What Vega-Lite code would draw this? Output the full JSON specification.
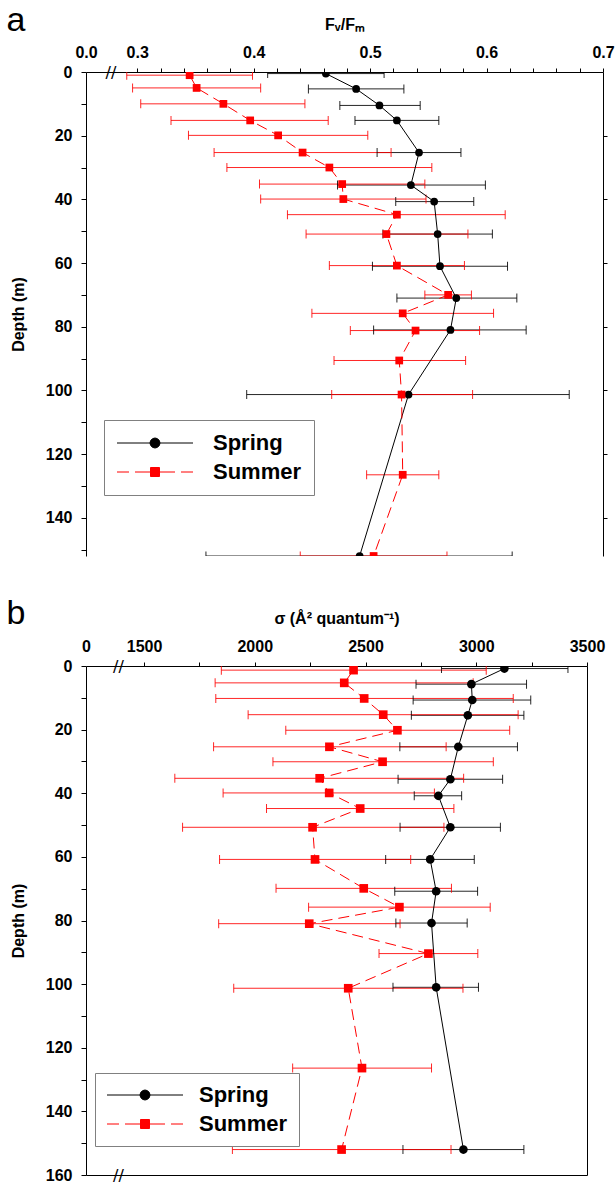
{
  "$schema": "https://vega.github.io/schema/vega-lite/v6.json",
  "padding": {"left": 6, "top": 3, "right": 0, "bottom": 0},
  "spacing": 38,
  "config": {
    "view": {"stroke": null},
    "font": "Liberation Sans",
    "axis": {"labelFont": "Liberation Sans", "titleFont": "Liberation Sans", "labelFontWeight": "bold", "titleFontWeight": "bold", "labelColor": "black", "titleColor": "black", "domainColor": "black", "tickColor": "black", "grid": false, "labelFontSize": 16, "titleFontSize": 16}
  },
  "datasets": {
    "fv": [
      {"season": "Spring", "depth": 0.5, "val": 0.462, "lo": 0.412, "hi": 0.512},
      {"season": "Spring", "depth": 5.3, "val": 0.488, "lo": 0.447, "hi": 0.529},
      {"season": "Spring", "depth": 10.5, "val": 0.508, "lo": 0.474, "hi": 0.543},
      {"season": "Spring", "depth": 15.2, "val": 0.523, "lo": 0.487, "hi": 0.559},
      {"season": "Spring", "depth": 25.3, "val": 0.542, "lo": 0.506, "hi": 0.578},
      {"season": "Spring", "depth": 35.5, "val": 0.535, "lo": 0.472, "hi": 0.599},
      {"season": "Spring", "depth": 40.7, "val": 0.555, "lo": 0.522, "hi": 0.589},
      {"season": "Spring", "depth": 50.9, "val": 0.558, "lo": 0.511, "hi": 0.605},
      {"season": "Spring", "depth": 61, "val": 0.56, "lo": 0.502, "hi": 0.618},
      {"season": "Spring", "depth": 71, "val": 0.574, "lo": 0.523, "hi": 0.626},
      {"season": "Spring", "depth": 81, "val": 0.569, "lo": 0.503, "hi": 0.634},
      {"season": "Spring", "depth": 101.3, "val": 0.533, "lo": 0.394, "hi": 0.671},
      {"season": "Spring", "depth": 152, "val": 0.491, "lo": 0.359, "hi": 0.622},
      {"season": "Summer", "depth": 1, "val": 0.345, "lo": 0.291, "hi": 0.399},
      {"season": "Summer", "depth": 5, "val": 0.351, "lo": 0.296, "hi": 0.406},
      {"season": "Summer", "depth": 10, "val": 0.374, "lo": 0.303, "hi": 0.444},
      {"season": "Summer", "depth": 15.2, "val": 0.397, "lo": 0.329, "hi": 0.464},
      {"season": "Summer", "depth": 19.9, "val": 0.421, "lo": 0.344, "hi": 0.498},
      {"season": "Summer", "depth": 25.3, "val": 0.442, "lo": 0.366, "hi": 0.518},
      {"season": "Summer", "depth": 30, "val": 0.465, "lo": 0.377, "hi": 0.553},
      {"season": "Summer", "depth": 35.2, "val": 0.476, "lo": 0.405, "hi": 0.547},
      {"season": "Summer", "depth": 39.9, "val": 0.477, "lo": 0.406, "hi": 0.548},
      {"season": "Summer", "depth": 44.8, "val": 0.523, "lo": 0.429, "hi": 0.616},
      {"season": "Summer", "depth": 50.9, "val": 0.514, "lo": 0.445, "hi": 0.584},
      {"season": "Summer", "depth": 60.8, "val": 0.523, "lo": 0.465, "hi": 0.581},
      {"season": "Summer", "depth": 70, "val": 0.567, "lo": 0.547, "hi": 0.587},
      {"season": "Summer", "depth": 75.8, "val": 0.528, "lo": 0.45, "hi": 0.606},
      {"season": "Summer", "depth": 81.2, "val": 0.539, "lo": 0.483, "hi": 0.594},
      {"season": "Summer", "depth": 90.6, "val": 0.525, "lo": 0.469, "hi": 0.582},
      {"season": "Summer", "depth": 101.3, "val": 0.527, "lo": 0.467, "hi": 0.588},
      {"season": "Summer", "depth": 126.5, "val": 0.528, "lo": 0.497, "hi": 0.559},
      {"season": "Summer", "depth": 152, "val": 0.503, "lo": 0.44, "hi": 0.566}
    ],
    "sigma": [
      {"season": "Spring", "depth": 0.8, "val": 3127, "lo": 2843, "hi": 3414},
      {"season": "Spring", "depth": 5.7, "val": 2978, "lo": 2728, "hi": 3227},
      {"season": "Spring", "depth": 10.7, "val": 2982, "lo": 2715, "hi": 3246},
      {"season": "Spring", "depth": 15.5, "val": 2962, "lo": 2707, "hi": 3215},
      {"season": "Spring", "depth": 25.4, "val": 2919, "lo": 2655, "hi": 3186},
      {"season": "Spring", "depth": 35.6, "val": 2883, "lo": 2647, "hi": 3119},
      {"season": "Spring", "depth": 40.8, "val": 2829, "lo": 2720, "hi": 2934},
      {"season": "Spring", "depth": 50.7, "val": 2883, "lo": 2656, "hi": 3109},
      {"season": "Spring", "depth": 60.8, "val": 2792, "lo": 2591, "hi": 2991},
      {"season": "Spring", "depth": 70.8, "val": 2819, "lo": 2632, "hi": 3006},
      {"season": "Spring", "depth": 80.8, "val": 2798, "lo": 2637, "hi": 2959},
      {"season": "Spring", "depth": 101, "val": 2819, "lo": 2624, "hi": 3010},
      {"season": "Spring", "depth": 152, "val": 2942, "lo": 2669, "hi": 3215},
      {"season": "Summer", "depth": 1.3, "val": 2446, "lo": 1849, "hi": 3045},
      {"season": "Summer", "depth": 5.3, "val": 2404, "lo": 1821, "hi": 2986},
      {"season": "Summer", "depth": 10.2, "val": 2494, "lo": 1824, "hi": 3167},
      {"season": "Summer", "depth": 15.3, "val": 2580, "lo": 1970, "hi": 3189},
      {"season": "Summer", "depth": 20.2, "val": 2644, "lo": 2140, "hi": 3151},
      {"season": "Summer", "depth": 25.4, "val": 2337, "lo": 1814, "hi": 2864},
      {"season": "Summer", "depth": 30.1, "val": 2577, "lo": 2082, "hi": 3077},
      {"season": "Summer", "depth": 35.3, "val": 2293, "lo": 1639, "hi": 2943},
      {"season": "Summer", "depth": 39.9, "val": 2336, "lo": 1857, "hi": 2811},
      {"season": "Summer", "depth": 44.8, "val": 2476, "lo": 2053, "hi": 2899},
      {"season": "Summer", "depth": 50.7, "val": 2261, "lo": 1674, "hi": 2854},
      {"season": "Summer", "depth": 60.8, "val": 2272, "lo": 1841, "hi": 2704},
      {"season": "Summer", "depth": 69.9, "val": 2492, "lo": 2096, "hi": 2888},
      {"season": "Summer", "depth": 75.8, "val": 2653, "lo": 2243, "hi": 3063},
      {"season": "Summer", "depth": 81, "val": 2246, "lo": 1837, "hi": 2656},
      {"season": "Summer", "depth": 90.4, "val": 2784, "lo": 2561, "hi": 3007},
      {"season": "Summer", "depth": 101.3, "val": 2422, "lo": 1905, "hi": 2940},
      {"season": "Summer", "depth": 126.4, "val": 2484, "lo": 2171, "hi": 2798},
      {"season": "Summer", "depth": 152, "val": 2392, "lo": 1899, "hi": 2886}
    ]
  },
  "resolve": {"scale": {"x": "independent", "y": "independent", "shape": "independent", "fill": "independent", "stroke": "independent"}, "legend": {"shape": "independent", "fill": "independent", "stroke": "independent"}},
  "vconcat": [
    {
      "width": 517,
      "height": 484,
      "data": {"name": "fv"},
      "resolve": {"axis": {"x": "independent", "y": "independent"}},
      "layer": [
        {
          "transform": [{"filter": "datum.season === 'Spring'"}],
          "mark": {"type": "rule", "color": "#000000", "strokeWidth": 1, "opacity": 0.85, "clip": true},
          "encoding": {
            "x": {"field": "lo", "type": "quantitative", "scale": {"domain": [0.256, 0.7], "nice": false, "zero": false},
              "axis": {"orient": "top", "title": "Fᵥ/Fₘ", "titlePadding": 12, "values": [0.256, 0.3, 0.32, 0.34, 0.36, 0.38, 0.4, 0.42, 0.44, 0.46, 0.48, 0.5, 0.52, 0.54, 0.56, 0.58, 0.6, 0.62, 0.64, 0.66, 0.68, 0.7], "labelExpr": "datum.value < 0.27 ? '0.0' : (abs(datum.value * 10 - round(datum.value * 10)) < 0.001 ? format(datum.value, '.1f') : '')", "labelFlush": false, "labelOverlap": false, "tickSize": 4, "labelPadding": 8, "tickColor": {"condition": {"test": "datum.value < 0.27", "value": "transparent"}, "value": "black"}}},
            "x2": {"field": "hi"},
            "y": {"field": "depth", "type": "quantitative", "scale": {"domain": [0, 152], "reverse": true, "nice": false, "zero": false},
              "axis": {"orient": "left", "title": "Depth (m)", "titlePadding": 19, "values": [0, 10, 20, 30, 40, 50, 60, 70, 80, 90, 100, 110, 120, 130, 140, 150], "labelExpr": "datum.value % 20 === 0 ? datum.label : ''", "tickSize": 5, "labelPadding": 9, "labelFlush": false, "labelOverlap": false}}
          }
        },
        {
          "transform": [{"filter": "datum.season === 'Summer'"}],
          "mark": {"type": "rule", "color": "#ff0000", "strokeWidth": 1, "opacity": 0.85, "clip": true},
          "encoding": {
            "x": {"field": "lo", "type": "quantitative", "scale": {"domain": [0.256, 0.7], "nice": false, "zero": false},
              "axis": {"orient": "top", "title": "a", "titleX": -80, "titleY": -41.5, "titleAlign": "left", "titleBaseline": "alphabetic", "titleAngle": 0, "titleFontSize": 34, "titleFontWeight": "normal", "titleFont": "Liberation Sans", "values": [0.277], "labelExpr": "'//'", "ticks": false, "tickSize": 0, "domain": false, "labelPadding": 0, "labelBaseline": "middle", "labelFontSize": 16, "labelFontWeight": "normal", "labelFont": "DejaVu Sans", "labelFlush": false}},
            "x2": {"field": "hi"},
            "y": {"field": "depth", "type": "quantitative", "scale": {"domain": [0, 152], "reverse": true, "nice": false, "zero": false},
              "axis": {"orient": "right", "title": null, "values": [20, 40, 60, 80, 100, 120, 140], "labels": false, "tickSize": 4}}
          }
        },
        {
          "transform": [{"filter": "datum.season === 'Spring'"}, {"fold": ["lo", "hi"], "as": ["end", "pos"]}],
          "mark": {"type": "tick", "orient": "vertical", "thickness": 1, "size": 9, "color": "#000000", "opacity": 0.85, "clip": true},
          "encoding": {
            "x": {"field": "pos", "type": "quantitative", "scale": {"domain": [0.256, 0.7], "nice": false, "zero": false}, "axis": null},
            "y": {"field": "depth", "type": "quantitative", "scale": {"domain": [0, 152], "reverse": true, "nice": false, "zero": false}, "axis": null}
          }
        },
        {
          "transform": [{"filter": "datum.season === 'Summer'"}, {"fold": ["lo", "hi"], "as": ["end", "pos"]}],
          "mark": {"type": "tick", "orient": "vertical", "thickness": 1, "size": 9, "color": "#ff0000", "opacity": 0.85, "clip": true},
          "encoding": {
            "x": {"field": "pos", "type": "quantitative", "scale": {"domain": [0.256, 0.7], "nice": false, "zero": false}, "axis": null},
            "y": {"field": "depth", "type": "quantitative", "scale": {"domain": [0, 152], "reverse": true, "nice": false, "zero": false}, "axis": null}
          }
        },
        {
          "transform": [{"filter": "datum.season === 'Spring'"}],
          "mark": {"type": "line", "color": "#000000", "strokeWidth": 1, "clip": true},
          "encoding": {
            "x": {"field": "val", "type": "quantitative", "scale": {"domain": [0.256, 0.7], "nice": false, "zero": false}, "axis": null},
            "y": {"field": "depth", "type": "quantitative", "scale": {"domain": [0, 152], "reverse": true, "nice": false, "zero": false}, "axis": null},
            "order": {"field": "depth", "type": "quantitative"}
          }
        },
        {
          "transform": [{"filter": "datum.season === 'Summer'"}],
          "mark": {"type": "line", "color": "#ff0000", "strokeWidth": 1, "strokeDash": [11, 6], "clip": true},
          "encoding": {
            "x": {"field": "val", "type": "quantitative", "scale": {"domain": [0.256, 0.7], "nice": false, "zero": false}, "axis": null},
            "y": {"field": "depth", "type": "quantitative", "scale": {"domain": [0, 152], "reverse": true, "nice": false, "zero": false}, "axis": null},
            "order": {"field": "depth", "type": "quantitative"}
          }
        },
        {
          "transform": [{"filter": "datum.season === 'Spring'"}],
          "mark": {"type": "point", "shape": "circle", "filled": true, "color": "#000000", "opacity": 1, "size": 60, "clip": true},
          "encoding": {
            "x": {"field": "val", "type": "quantitative", "scale": {"domain": [0.256, 0.7], "nice": false, "zero": false}, "axis": null},
            "y": {"field": "depth", "type": "quantitative", "scale": {"domain": [0, 152], "reverse": true, "nice": false, "zero": false}, "axis": null}
          }
        },
        {
          "transform": [{"filter": "datum.season === 'Summer'"}],
          "mark": {"type": "point", "shape": "square", "filled": true, "color": "#ff0000", "opacity": 1, "size": 60, "clip": true},
          "encoding": {
            "x": {"field": "val", "type": "quantitative", "scale": {"domain": [0.256, 0.7], "nice": false, "zero": false}, "axis": null},
            "y": {"field": "depth", "type": "quantitative", "scale": {"domain": [0, 152], "reverse": true, "nice": false, "zero": false}, "axis": null}
          }
        },
        {
          "transform": [{"filter": "datum.depth < 0"}],
          "mark": {"type": "point", "opacity": 1, "strokeWidth": 1},
          "encoding": {
            "x": {"field": "val", "type": "quantitative", "scale": {"domain": [0.256, 0.7], "nice": false, "zero": false}, "axis": null},
            "y": {"field": "depth", "type": "quantitative", "scale": {"domain": [0, 152], "reverse": true, "nice": false, "zero": false}, "axis": null},
            "shape": {"field": "season", "type": "nominal",
              "scale": {"domain": ["Spring", "Summer"], "range": ["M-1,0L6.6,0M3.3,0L3.233,0.25L3.05,0.433L2.8,0.5L2.55,0.433L2.367,0.25L2.3,0L2.367,-0.25L2.55,-0.433L2.8,-0.5L3.05,-0.433L3.233,-0.25Z", "M-1,0L0.2,0M0.8,0L2.35,0M3.25,0L4.8,0M5.4,0L6.6,0M2.35,-0.45L3.25,-0.45L3.25,0.45L2.35,0.45Z"]},
              "legend": {"orient": "none", "legendX": 18, "legendY": 348, "title": null, "symbolSize": 400, "symbolStrokeWidth": 1, "labelFontSize": 22, "labelFontWeight": "bold", "labelFont": "Liberation Sans", "labelColor": "black", "labelOffset": 75, "rowPadding": 7, "padding": 12, "strokeColor": "#808080", "fillColor": "white", "symbolOpacity": 1}},
            "fill": {"field": "season", "type": "nominal", "scale": {"domain": ["Spring", "Summer"], "range": ["#000000", "#ff0000"]},
              "legend": {"orient": "none", "legendX": 18, "legendY": 348, "title": null, "symbolSize": 400, "symbolStrokeWidth": 1, "labelFontSize": 22, "labelFontWeight": "bold", "labelFont": "Liberation Sans", "labelColor": "black", "labelOffset": 75, "rowPadding": 7, "padding": 12, "strokeColor": "#808080", "fillColor": "white", "symbolOpacity": 1}},
            "stroke": {"field": "season", "type": "nominal", "scale": {"domain": ["Spring", "Summer"], "range": ["#000000", "#ff0000"]},
              "legend": {"orient": "none", "legendX": 18, "legendY": 348, "title": null, "symbolSize": 400, "symbolStrokeWidth": 1, "labelFontSize": 22, "labelFontWeight": "bold", "labelFont": "Liberation Sans", "labelColor": "black", "labelOffset": 75, "rowPadding": 7, "padding": 12, "strokeColor": "#808080", "fillColor": "white", "symbolOpacity": 1}}
          }
        }
      ]
    },
    {
      "width": 501,
      "height": 509,
      "data": {"name": "sigma"},
      "resolve": {"axis": {"x": "independent", "y": "independent"}},
      "layer": [
        {
          "transform": [{"filter": "datum.season === 'Spring'"}],
          "mark": {"type": "rule", "color": "#000000", "strokeWidth": 1, "opacity": 0.85, "clip": true},
          "encoding": {
            "x": {"field": "lo", "type": "quantitative", "scale": {"domain": [1238, 3500], "nice": false, "zero": false},
              "axis": {"orient": "top", "title": "σ (Å² quantum⁻¹)", "titlePadding": 12, "values": [1238, 1500, 1750, 2000, 2250, 2500, 2750, 3000, 3250, 3500], "format": "d", "labelExpr": "datum.value < 1300 ? '0' : (datum.value % 500 === 0 ? datum.label : '')", "labelFlush": false, "labelOverlap": false, "tickSize": 4, "labelPadding": 8, "tickColor": {"condition": {"test": "datum.value < 1300", "value": "transparent"}, "value": "black"}}},
            "x2": {"field": "hi"},
            "y": {"field": "depth", "type": "quantitative", "scale": {"domain": [0, 160], "reverse": true, "nice": false, "zero": false},
              "axis": {"orient": "left", "title": "Depth (m)", "titlePadding": 19, "values": [0, 10, 20, 30, 40, 50, 60, 70, 80, 90, 100, 110, 120, 130, 140, 150, 160], "labelExpr": "datum.value % 20 === 0 ? datum.label : ''", "tickSize": 5, "labelPadding": 9, "labelFlush": false, "labelOverlap": false}}
          }
        },
        {
          "transform": [{"filter": "datum.season === 'Summer'"}],
          "mark": {"type": "rule", "color": "#ff0000", "strokeWidth": 1, "opacity": 0.85, "clip": true},
          "encoding": {
            "x": {"field": "lo", "type": "quantitative", "scale": {"domain": [1238, 3500], "nice": false, "zero": false},
              "axis": {"orient": "top", "title": "b", "titleX": -80, "titleY": -43, "titleAlign": "left", "titleBaseline": "alphabetic", "titleAngle": 0, "titleFontSize": 34, "titleFontWeight": "normal", "titleFont": "Liberation Sans", "values": [1382], "labelExpr": "'//'", "ticks": false, "tickSize": 0, "domain": false, "labelPadding": 0, "labelBaseline": "middle", "labelFontSize": 16, "labelFontWeight": "normal", "labelFont": "DejaVu Sans", "labelFlush": false}},
            "x2": {"field": "hi"},
            "y": {"field": "depth", "type": "quantitative", "scale": {"domain": [0, 160], "reverse": true, "nice": false, "zero": false},
              "axis": {"orient": "right", "title": null, "labels": false, "ticks": false}}
          }
        },
        {
          "transform": [{"filter": "datum.season === 'Spring'"}, {"fold": ["lo", "hi"], "as": ["end", "pos"]}],
          "mark": {"type": "tick", "orient": "vertical", "thickness": 1, "size": 9, "color": "#000000", "opacity": 0.85, "clip": true},
          "encoding": {
            "x": {"field": "pos", "type": "quantitative", "scale": {"domain": [1238, 3500], "nice": false, "zero": false},
              "axis": {"orient": "bottom", "title": null, "values": [1382], "labelExpr": "'//'", "ticks": false, "tickSize": 0, "labelPadding": 0, "labelBaseline": "middle", "labelFontSize": 16, "labelFontWeight": "normal", "labelFont": "DejaVu Sans", "labelFlush": false}},
            "y": {"field": "depth", "type": "quantitative", "scale": {"domain": [0, 160], "reverse": true, "nice": false, "zero": false}, "axis": null}
          }
        },
        {
          "transform": [{"filter": "datum.season === 'Summer'"}, {"fold": ["lo", "hi"], "as": ["end", "pos"]}],
          "mark": {"type": "tick", "orient": "vertical", "thickness": 1, "size": 9, "color": "#ff0000", "opacity": 0.85, "clip": true},
          "encoding": {
            "x": {"field": "pos", "type": "quantitative", "scale": {"domain": [1238, 3500], "nice": false, "zero": false}, "axis": null},
            "y": {"field": "depth", "type": "quantitative", "scale": {"domain": [0, 160], "reverse": true, "nice": false, "zero": false}, "axis": null}
          }
        },
        {
          "transform": [{"filter": "datum.season === 'Spring'"}],
          "mark": {"type": "line", "color": "#000000", "strokeWidth": 1, "clip": true},
          "encoding": {
            "x": {"field": "val", "type": "quantitative", "scale": {"domain": [1238, 3500], "nice": false, "zero": false}, "axis": null},
            "y": {"field": "depth", "type": "quantitative", "scale": {"domain": [0, 160], "reverse": true, "nice": false, "zero": false}, "axis": null},
            "order": {"field": "depth", "type": "quantitative"}
          }
        },
        {
          "transform": [{"filter": "datum.season === 'Summer'"}],
          "mark": {"type": "line", "color": "#ff0000", "strokeWidth": 1, "strokeDash": [11, 6], "clip": true},
          "encoding": {
            "x": {"field": "val", "type": "quantitative", "scale": {"domain": [1238, 3500], "nice": false, "zero": false}, "axis": null},
            "y": {"field": "depth", "type": "quantitative", "scale": {"domain": [0, 160], "reverse": true, "nice": false, "zero": false}, "axis": null},
            "order": {"field": "depth", "type": "quantitative"}
          }
        },
        {
          "transform": [{"filter": "datum.season === 'Spring'"}],
          "mark": {"type": "point", "shape": "circle", "filled": true, "color": "#000000", "opacity": 1, "size": 75, "clip": true},
          "encoding": {
            "x": {"field": "val", "type": "quantitative", "scale": {"domain": [1238, 3500], "nice": false, "zero": false}, "axis": null},
            "y": {"field": "depth", "type": "quantitative", "scale": {"domain": [0, 160], "reverse": true, "nice": false, "zero": false}, "axis": null}
          }
        },
        {
          "transform": [{"filter": "datum.season === 'Summer'"}],
          "mark": {"type": "point", "shape": "square", "filled": true, "color": "#ff0000", "opacity": 1, "size": 75, "clip": true},
          "encoding": {
            "x": {"field": "val", "type": "quantitative", "scale": {"domain": [1238, 3500], "nice": false, "zero": false}, "axis": null},
            "y": {"field": "depth", "type": "quantitative", "scale": {"domain": [0, 160], "reverse": true, "nice": false, "zero": false}, "axis": null}
          }
        },
        {
          "transform": [{"filter": "datum.depth < 0"}],
          "mark": {"type": "point", "opacity": 1, "strokeWidth": 1},
          "encoding": {
            "x": {"field": "val", "type": "quantitative", "scale": {"domain": [1238, 3500], "nice": false, "zero": false}, "axis": null},
            "y": {"field": "depth", "type": "quantitative", "scale": {"domain": [0, 160], "reverse": true, "nice": false, "zero": false}, "axis": null},
            "shape": {"field": "season", "type": "nominal",
              "scale": {"domain": ["Spring", "Summer"], "range": ["M-1,0L6.6,0M3.3,0L3.233,0.25L3.05,0.433L2.8,0.5L2.55,0.433L2.367,0.25L2.3,0L2.367,-0.25L2.55,-0.433L2.8,-0.5L3.05,-0.433L3.233,-0.25Z", "M-1,0L0.2,0M0.8,0L2.35,0M3.25,0L4.8,0M5.4,0L6.6,0M2.35,-0.45L3.25,-0.45L3.25,0.45L2.35,0.45Z"]},
              "legend": {"orient": "none", "legendX": 9, "legendY": 407, "title": null, "symbolSize": 400, "symbolStrokeWidth": 1, "labelFontSize": 22, "labelFontWeight": "bold", "labelFont": "Liberation Sans", "labelColor": "black", "labelOffset": 71, "rowPadding": 7, "padding": 11, "strokeColor": "#808080", "fillColor": "white", "symbolOpacity": 1}},
            "fill": {"field": "season", "type": "nominal", "scale": {"domain": ["Spring", "Summer"], "range": ["#000000", "#ff0000"]},
              "legend": {"orient": "none", "legendX": 9, "legendY": 407, "title": null, "symbolSize": 400, "symbolStrokeWidth": 1, "labelFontSize": 22, "labelFontWeight": "bold", "labelFont": "Liberation Sans", "labelColor": "black", "labelOffset": 71, "rowPadding": 7, "padding": 11, "strokeColor": "#808080", "fillColor": "white", "symbolOpacity": 1}},
            "stroke": {"field": "season", "type": "nominal", "scale": {"domain": ["Spring", "Summer"], "range": ["#000000", "#ff0000"]},
              "legend": {"orient": "none", "legendX": 9, "legendY": 407, "title": null, "symbolSize": 400, "symbolStrokeWidth": 1, "labelFontSize": 22, "labelFontWeight": "bold", "labelFont": "Liberation Sans", "labelColor": "black", "labelOffset": 71, "rowPadding": 7, "padding": 11, "strokeColor": "#808080", "fillColor": "white", "symbolOpacity": 1}}
          }
        }
      ]
    }
  ]
}
